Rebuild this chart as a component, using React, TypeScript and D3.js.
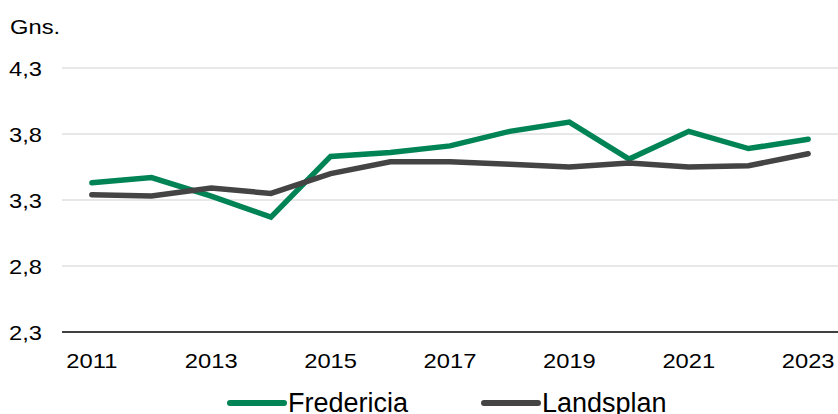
import { scaleBand, scaleLinear, line } from 'd3'

// Gennemsnit pr. år
const YEARS = [2011, 2012, 2013, 2014, 2015, 2016, 2017, 2018, 2019, 2020, 2021, 2022, 2023]
const FREDERICIA = [3.43, 3.47, 3.33, 3.17, 3.63, 3.66, 3.71, 3.82, 3.89, 3.61, 3.82, 3.69, 3.76]
const LANDSPLAN = [3.34, 3.33, 3.39, 3.35, 3.5, 3.59, 3.59, 3.57, 3.55, 3.58, 3.55, 3.56, 3.65]
const Y_TICKS = [2.3, 2.8, 3.3, 3.8, 4.3]
const X_LABELS = [2011, 2013, 2015, 2017, 2019, 2021, 2023]

const W = 838
const H = 414
const LEFT = 62
const TOP = 68
const BOTTOM = 332
const GREEN = '#008456'
const DARK = '#444444'
const FONT = 'Liberation Sans, Arial, sans-serif'
const STRETCH = 1.13

const fmt = (v: number) => v.toFixed(1).replace('.', ',')

export default function App() {
  const x = scaleBand<number>().domain(YEARS).range([LEFT, W]).padding(0)
  const y = scaleLinear().domain([2.3, 4.3]).range([BOTTOM, TOP])
  const cx = (yr: number) => (x(yr) ?? 0) + x.bandwidth() / 2

  const path = line<number>()
    .x((_, i) => cx(YEARS[i]))
    .y((d) => y(d))

  const series = [
    { name: 'Fredericia', values: FREDERICIA, color: GREEN, lx: 230 },
    { name: 'Landsplan', values: LANDSPLAN, color: DARK, lx: 484 },
  ]

  return (
    <svg
      width={W}
      height={H}
      viewBox={`0 0 ${W} ${H}`}
      style={{ position: 'absolute', left: 0, top: 0, background: '#fff' }}
      fontFamily={FONT}
    >
      <text transform={`translate(10,34) scale(${STRETCH},1)`} fontSize={21} fill="#000">
        Gns.
      </text>

      {Y_TICKS.map((t) => (
        <g key={t}>
          <line
            x1={LEFT}
            x2={W}
            y1={y(t)}
            y2={y(t)}
            stroke={t === 2.3 ? '#000' : '#d0d0d0'}
            strokeWidth={t === 2.3 ? 1.5 : 1}
          />
          <text
            transform={`translate(42,${y(t)}) scale(${STRETCH},1)`}
            dy="0.36em"
            textAnchor="end"
            fontSize={21}
            fill="#000"
          >
            {fmt(t)}
          </text>
        </g>
      ))}

      {X_LABELS.map((yr) => (
        <text
          key={yr}
          transform={`translate(${cx(yr)},368) scale(${STRETCH},1)`}
          textAnchor="middle"
          fontSize={21}
          fill="#000"
        >
          {yr}
        </text>
      ))}

      {series.map((s) => (
        <path
          key={s.name}
          d={path(s.values) ?? ''}
          fill="none"
          stroke={s.color}
          strokeWidth={5.5}
          strokeLinecap="round"
          strokeLinejoin="miter"
        />
      ))}

      {series.map((s) => (
        <g key={s.name}>
          <line
            x1={s.lx}
            x2={s.lx + 54}
            y1={403}
            y2={403}
            stroke={s.color}
            strokeWidth={6}
            strokeLinecap="round"
          />
          <text x={s.lx + 58} y={412} fontSize={27} fill="#000">
            {s.name}
          </text>
        </g>
      ))}
    </svg>
  )
}
